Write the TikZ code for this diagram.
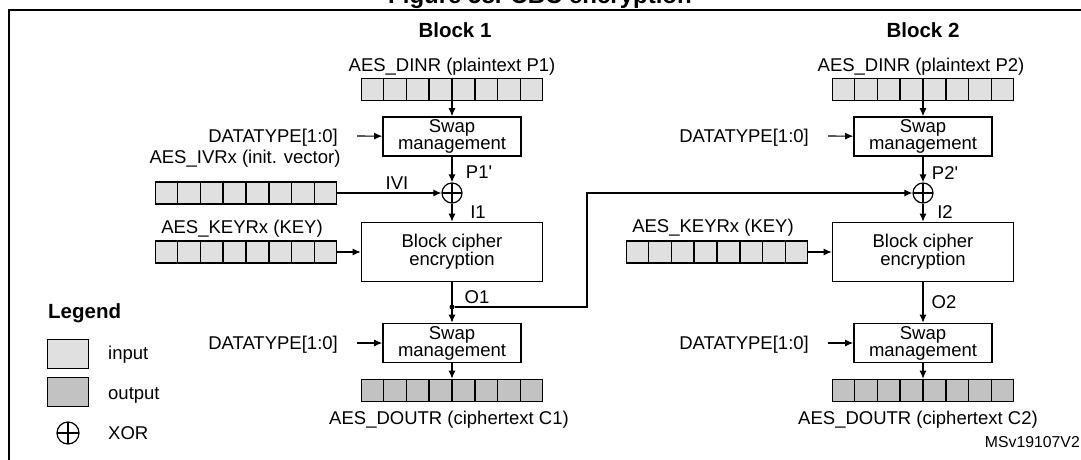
\documentclass[tikz,border=0pt]{standalone}
\usepackage{fontspec}
\setmainfont{Liberation Sans}
\usepackage{tikz}
\usetikzlibrary{positioning}
\usetikzlibrary{calc,arrows.meta}

\definecolor{regIn}{gray}{0.88}
\definecolor{regOut}{gray}{0.76}

\tikzset{
	txt/.style={inner sep=0pt, text height=13.4pt, text depth=0pt, font=\fontsize{18.5}{17}\selectfont},
	head/.style={inner sep=0pt, text height=14.7pt, text depth=0pt, font=\bfseries\fontsize{20.5}{22}\selectfont},
	capt/.style={inner sep=0pt, anchor=base, font=\bfseries\fontsize{24}{26}\selectfont},
	procbox/.style={draw, line width=1.6pt, fill=white, align=center, inner sep=0pt, font=\fontsize{18.5}{17}\selectfont},
	swapbox/.style={procbox, minimum width=138pt, minimum height=39pt},
	encbox/.style={procbox, minimum width=181pt, minimum height=59pt},
	regbox/.style={draw, line width=1.6pt, minimum width=181pt, minimum height=22pt, inner sep=0pt},
	keybox/.style={draw, line width=1.6pt, minimum width=41pt, minimum height=29pt, inner sep=0pt},
	xorgate/.style={circle, draw, line width=1.2pt, minimum size=20pt, inner sep=0pt,
		path picture={\draw[line width=1.2pt] (path picture bounding box.north) -- (path picture bounding box.south)
			(path picture bounding box.west) -- (path picture bounding box.east);}},
	conn/.style={line width=1.1pt, -{Latex[length=8pt,width=7pt]}},
}

% register of 8 cells: name, centre, fill
\newcommand{\regrow}[3]{%
	\node[regbox, fill=#3] (#1) at (#2) {};
	\foreach \k in {1,...,7}
		\draw[line width=1.6pt] ($(#1.north west)!\k/8!(#1.north east)$) -- ($(#1.south west)!\k/8!(#1.south east)$);
}

\begin{document}
\begin{tikzpicture}[x=1pt, y=-1pt]
	
	% one unit = one pixel of the page, y grows downwards
	\useasboundingbox (0,0) rectangle (1081,459);
	\clip (0,0) rectangle (1081,459);
	
	% frame, caption sits above the crop (only its foot shows)
	\draw[line width=2pt] (9,10) rectangle (1095,475);
	\node[capt] (CAP) at (540,3) {Figure 58. CBC encryption};
	
	%%%%%%%%%%%%%%%%%%%%%%%%%%%%%%%%%%%%%%%%%%%%%%%%%%%%%%%%%%%%%%
	% BLOCK 1
	\node[head] (B1) at (455,30) {Block 1};
	\node[txt] (LDIN1) at (452,65) {AES\_DINR (plaintext P1)};
	\regrow{DIN1}{452,89.5}{regIn}
	
	\node[swapbox] (SW1) at (452,136.5) {Swap\\management};
	\node[txt, anchor=east] (DT1) at (338,136) {DATATYPE[1:0]};
	\coordinate[right=19pt of DT1] (DT1e);
	
	\node[txt] (LIV) at (245,157) {AES\_IVRx (init. vector)};
	\regrow{IV}{246,193}{regIn}
	\node[txt] (LIVI) at (397,183) {IVI};
	\node[xorgate] (X1) at (452,193) {};
	\node[txt] (LP1) at (479,172) {P1\textquotesingle};
	\node[txt] (LI1) at (478,212) {I1};
	
	\node[txt] (LKEY1) at (242,227) {AES\_KEYRx (KEY)};
	\regrow{KEY1}{246,252}{regIn}
	\node[encbox] (ENC1) at (452,252) {Block cipher\\encryption};
	
	\node[txt] (LO1) at (477,297) {O1};
	\node[circle, fill, minimum size=5pt, inner sep=0pt] (DOT) at (452,307) {};
	\coordinate (BEND) at (587,307);
	
	\node[swapbox] (SWO1) at (452,343) {Swap\\management};
	\node[txt, anchor=east] (DTO1) at (338,343) {DATATYPE[1:0]};
	\coordinate[right=19pt of DTO1] (DTO1e);
	\regrow{DOUT1}{452,390.5}{regOut}
	\node[txt] (LDOUT1) at (449,418) {AES\_DOUTR (ciphertext C1)};
	
	%%%%%%%%%%%%%%%%%%%%%%%%%%%%%%%%%%%%%%%%%%%%%%%%%%%%%%%%%%%%%%
	% BLOCK 2
	\node[head] (B2) at (923,30) {Block 2};
	\node[txt] (LDIN2) at (921,65) {AES\_DINR (plaintext P2)};
	\regrow{DIN2}{923,89.5}{regIn}
	
	\node[swapbox] (SW2) at (923,136.5) {Swap\\management};
	\node[txt, anchor=east] (DT2) at (809,136) {DATATYPE[1:0]};
	\coordinate[right=19pt of DT2] (DT2e);
	
	\node[xorgate] (X2) at (923,193) {};
	\node[txt] (LP2) at (945,173) {P2\textquotesingle};
	\node[txt] (LI2) at (945,212) {I2};
	
	\node[txt] (LKEY2) at (713,226) {AES\_KEYRx (KEY)};
	\regrow{KEY2}{717,252}{regIn}
	\node[encbox] (ENC2) at (923,252) {Block cipher\\encryption};
	
	\node[txt] (LO2) at (944,302) {O2};
	
	\node[swapbox] (SWO2) at (923,343) {Swap\\management};
	\node[txt, anchor=east] (DTO2) at (809,343) {DATATYPE[1:0]};
	\coordinate[right=19pt of DTO2] (DTO2e);
	\regrow{DOUT2}{923,390.5}{regOut}
	\node[txt] (LDOUT2) at (918,418) {AES\_DOUTR (ciphertext C2)};
	
	%%%%%%%%%%%%%%%%%%%%%%%%%%%%%%%%%%%%%%%%%%%%%%%%%%%%%%%%%%%%%%
	% connectors
	\draw[conn] (DIN1) -- (SW1);
	\draw[conn] (DT1e) -- (SW1);
	\draw[conn] (SW1) -- (X1);
	\draw[conn] (IV) -- (X1);
	\draw[conn] (X1) -- (ENC1);
	\draw[conn] (KEY1) -- (ENC1);
	\draw[conn] (ENC1) -- (SWO1);
	\draw[conn] (DTO1e) -- (SWO1);
	\draw[conn] (SWO1) -- (DOUT1);
	
	% O1 chained into block 2
	\draw[conn] (DOT) -- (BEND) |- (X2);
	
	\draw[conn] (DIN2) -- (SW2);
	\draw[conn] (DT2e) -- (SW2);
	\draw[conn] (SW2) -- (X2);
	\draw[conn] (X2) -- (ENC2);
	\draw[conn] (KEY2) -- (ENC2);
	\draw[conn] (ENC2) -- (SWO2);
	\draw[conn] (DTO2e) -- (SWO2);
	\draw[conn] (SWO2) -- (DOUT2);
	
	%%%%%%%%%%%%%%%%%%%%%%%%%%%%%%%%%%%%%%%%%%%%%%%%%%%%%%%%%%%%%%
	% legend
	\node[head, anchor=west] (LEG) at (48,311) {Legend};
	\node[keybox, fill=regIn] (KIN) at (68,354) {};
	\node[txt, anchor=west] (LIN) at (108,353) {input};
	\node[keybox, fill=regOut] (KOUT) at (68,392) {};
	\node[txt, anchor=west] (LOUT) at (108,393) {output};
	\node[xorgate, minimum size=22pt] (KX) at (68,433) {};
	\node[txt, anchor=west] (LX) at (108,433) {XOR};
	
	\node[txt, anchor=east, text height=11.3pt, font=\fontsize{15.8}{17}\selectfont] (REF) at (1080,442) {MSv19107V2};
	
\end{tikzpicture}
\end{document}
